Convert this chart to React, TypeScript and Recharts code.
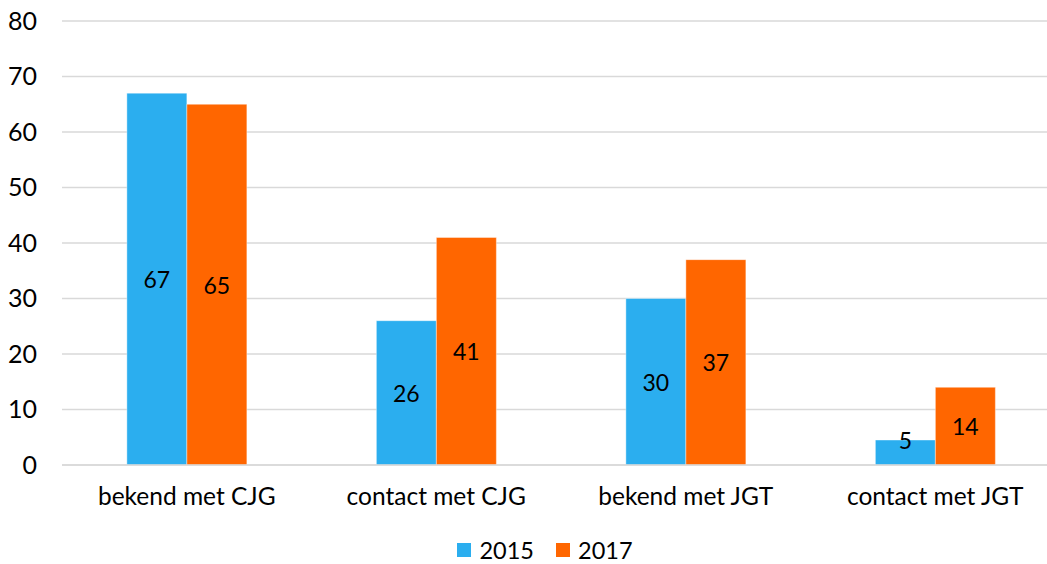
import React from "react"
import { BarChart, Bar, XAxis, YAxis, CartesianGrid, Legend, LabelList } from "recharts"

const categories = ["bekend met CJG", "contact met CJG", "bekend met JGT", "contact met JGT"]
const values2015 = [67, 26, 30, 4.5]
const values2017 = [65, 41, 37, 14]
const yTicks = [0, 10, 20, 30, 40, 50, 60, 70, 80]

const data = categories.map((name, i) => ({
  name,
  y2015: values2015[i],
  y2017: values2017[i],
}))

const FONT = "Lato, 'Open Sans', sans-serif"

const BarLabel = (props: any) => {
  const { x, y, width, height, value } = props
  // tiny bars get their label at the top edge, like the original
  const cy = height < 30 ? y : y + height / 2
  return (
    <text
      x={x + width / 2}
      y={cy}
      textAnchor="middle"
      dominantBaseline="central"
      fontSize={23}
      fontFamily={FONT}
      fill="#000"
    >
      {Math.round(value)}
    </text>
  )
}

const LegendContent = (props: any) => {
  const { payload } = props
  return (
    <div style={{ display: "flex", justifyContent: "center", paddingLeft: 30, paddingTop: 12, fontFamily: FONT, fontSize: 23.5, lineHeight: "18px" }}>
      {payload.map((p: any, i: number) => (
        <div key={i} style={{ display: "flex", alignItems: "center", marginRight: i === 0 ? 22 : 0 }}>
          <span style={{ width: 14, height: 14, background: p.color, display: "inline-block", marginRight: 8 }} />
          <span style={{ color: "#000" }}>{p.value}</span>
        </div>
      ))}
    </div>
  )
}

export default function App() {
  return (
    <div style={{ position: "absolute", left: 0, top: 0, width: 1047, height: 564, overflow: "hidden", background: "#fff" }}>
      <BarChart
        width={1060}
        height={564}
        data={data}
        margin={{ top: 21, right: 0, left: 0, bottom: 4 }}
        barCategoryGap="26%"
        barGap={0}
      >
        <CartesianGrid vertical={false} stroke="#d9d9d9" strokeWidth={1.5} />
        <XAxis
          dataKey="name"
          axisLine={{ stroke: "#d9d9d9", strokeWidth: 1.5 }}
          tickLine={false}
          tickSize={0}
          tickMargin={23}
          height={60}
          tick={{ fontSize: 24.5, fontFamily: FONT, fill: "#000" }}
        />
        <YAxis
          width={62}
          domain={[0, 80]}
          ticks={yTicks}
          axisLine={false}
          tickLine={false}
          tickSize={0}
          tickMargin={25}
          tick={{ fontSize: 25, fontFamily: FONT, fill: "#000" }}
        />
        <Legend verticalAlign="bottom" height={35} wrapperStyle={{ bottom: 0 }} content={<LegendContent />} />
        <Bar dataKey="y2015" name="2015" fill="#2baeef" stroke="rgba(255,255,255,0.4)" isAnimationActive={false}>
          <LabelList dataKey="y2015" content={<BarLabel />} />
        </Bar>
        <Bar dataKey="y2017" name="2017" fill="#ff6600" stroke="rgba(255,255,255,0.4)" isAnimationActive={false}>
          <LabelList dataKey="y2017" content={<BarLabel />} />
        </Bar>
      </BarChart>
    </div>
  )
}
